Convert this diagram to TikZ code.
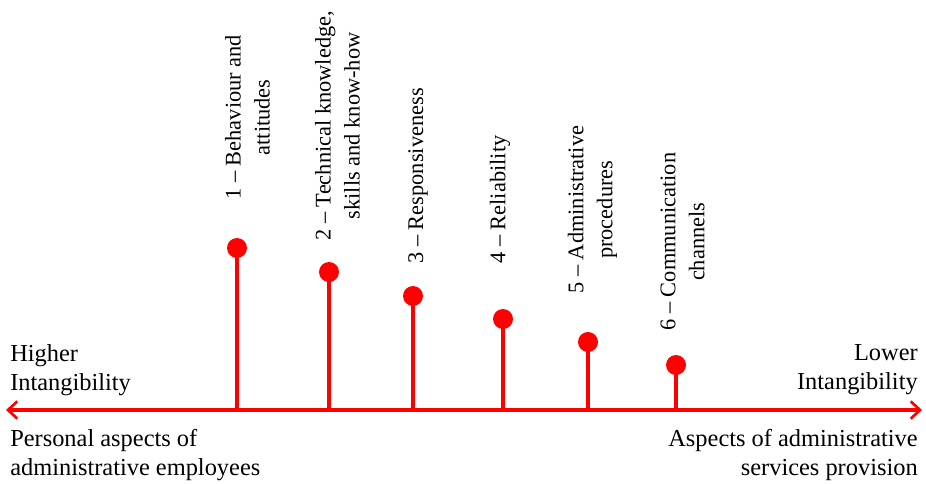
\documentclass[tikz,border=0pt]{standalone}
\usepackage{fontspec}
\setmainfont{Liberation Serif}
\usetikzlibrary{arrows.meta}
\definecolor{axisred}{RGB}{255,0,0}
\begin{document}
\begin{tikzpicture}[x=0.75pt,y=-0.75pt,
  stem/.style={draw=axisred,line width=2.3pt},
  dot/.style={circle,fill=axisred,minimum size=15pt,inner sep=0pt},
  axis/.style={draw=axisred,line width=2.3pt,{Straight Barb[length=7pt,width=13pt,line width=2pt]}-{Straight Barb[length=7pt,width=13pt,line width=2pt]}},
  vlabel/.style={rotate=90,anchor=west,align=center,inner sep=0pt,font=\fontsize{16.8}{21.7}\selectfont},
  side/.style={inner sep=0pt,font=\fontsize{18.3}{21.7}\selectfont}]
\useasboundingbox (0,0) rectangle (926,483);
% axis ends
\coordinate (L) at (6,410);
\coordinate (R) at (922,410);
\draw[axis] (L) -- (R);
% dots and bases
\foreach \n/\x/\y in {1/237/248,2/329/272,3/413/296,4/503/319,5/588/342,6/676/365}{
  \coordinate (b\n) at (\x,410);
  \node[dot] (d\n) at (\x,\y) {};
  \draw[stem] (d\n.center) -- (b\n);
}
% rotated labels
\node[vlabel] (t1) at (247.5,200) {1 -- Behaviour and\\attitudes};
\node[vlabel] (t2) at (337.5,241) {2 -- Technical knowledge,\\skills and know-how};
\node[vlabel] (t3) at (418,264) {3 -- Responsiveness};
\node[vlabel] (t4) at (500,264) {4 -- Reliability};
\node[vlabel] (t5) at (592.5,294) {5 -- Administrative\\procedures};
\node[vlabel] (t6) at (682.5,331) {6 -- Communication\\channels};
% side labels
\node[side,anchor=west,align=left] (hi) at (10,370) {Higher\\Intangibility};
\node[side,anchor=east,align=right] (lo) at (918,370) {Lower\\Intangibility};
\node[side,anchor=west,align=left] (pa) at (10,455) {Personal aspects of\\administrative employees};
\node[side,anchor=east,align=right] (as) at (918,455) {Aspects of administrative\\services provision};
\end{tikzpicture}
\end{document}
